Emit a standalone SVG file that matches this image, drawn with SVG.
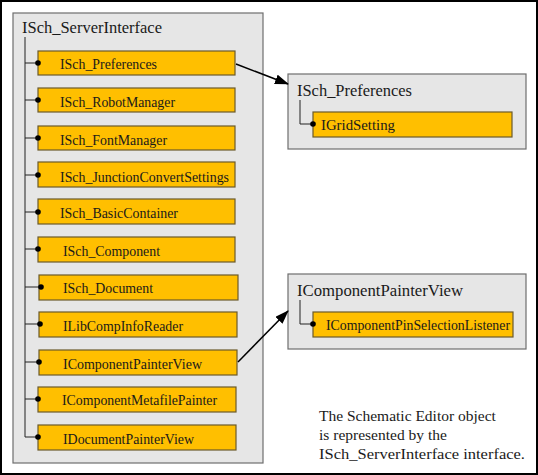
<svg xmlns="http://www.w3.org/2000/svg" width="538" height="475" viewBox="0 0 538 475">
<style>
.frame{fill:#fff;stroke:#000;stroke-width:2}
.grp{fill:#e6e6e6;stroke:#6e6e6e;stroke-width:1.2}
.box{fill:#ffbf00;stroke:#6b5a2a;stroke-width:1.2}
text{font-family:'Liberation Serif','Times New Roman',Times,'DejaVu Serif',serif;fill:#1a1a1a}
.title{font-size:16px}
.lbl{font-size:14px}
.tree{fill:none;stroke:#222;stroke-width:1}
.conn{fill:none;stroke:#000;stroke-width:1.5}
</style>
<defs>
<marker id="arr" viewBox="0 0 14 10" refX="13" refY="5" markerWidth="14" markerHeight="10" orient="auto" markerUnits="userSpaceOnUse">
<path d="M0,0 L14,5 L0,10 z" fill="#000"/>
</marker>
</defs>
<rect class="frame" x="1" y="1" width="536" height="473"/>
<g id="ISch_ServerInterface">
<rect class="grp" x="13" y="13" width="250" height="450"/>
<text class="title" x="22" y="33" textLength="140" lengthAdjust="spacingAndGlyphs">ISch_ServerInterface</text>
<path class="tree" d="M25,37 V437 M25,63 H38 M25,100 H38 M25,138 H38 M25,175 H38 M25,212 H38 M25,249 H38 M25,287 H41 M25,324 H40 M25,362 H39 M25,399 H38 M25,437 H38"/>
</g>
<g id="n_ISch_Preferences"><rect class="box" x="38" y="51" width="197" height="24"/><circle cx="38" cy="63" r="2.8"/><text class="lbl" x="60" y="69" textLength="97" lengthAdjust="spacingAndGlyphs">ISch_Preferences</text></g>
<g id="n_ISch_RobotManager"><rect class="box" x="38" y="88" width="197" height="24"/><circle cx="38" cy="100" r="2.8"/><text class="lbl" x="60" y="107" textLength="115" lengthAdjust="spacingAndGlyphs">ISch_RobotManager</text></g>
<g id="n_ISch_FontManager"><rect class="box" x="38" y="126" width="197" height="24"/><circle cx="38" cy="138" r="2.8"/><text class="lbl" x="60" y="145" textLength="107" lengthAdjust="spacingAndGlyphs">ISch_FontManager</text></g>
<g id="n_ISch_JunctionConvertSettings"><rect class="box" x="38" y="162" width="197" height="25"/><circle cx="38" cy="175" r="2.8"/><text class="lbl" x="60" y="182" textLength="169" lengthAdjust="spacingAndGlyphs">ISch_JunctionConvertSettings</text></g>
<g id="n_ISch_BasicContainer"><rect class="box" x="38" y="199" width="197" height="25"/><circle cx="38" cy="212" r="2.8"/><text class="lbl" x="60" y="218" textLength="118" lengthAdjust="spacingAndGlyphs">ISch_BasicContainer</text></g>
<g id="n_ISch_Component"><rect class="box" x="38" y="237" width="197" height="25"/><circle cx="38" cy="249" r="2.8"/><text class="lbl" x="63" y="256" textLength="97" lengthAdjust="spacingAndGlyphs">ISch_Component</text></g>
<g id="n_ISch_Document"><rect class="box" x="39" y="275" width="199" height="25"/><circle cx="41" cy="287" r="2.8"/><text class="lbl" x="63" y="293" textLength="90" lengthAdjust="spacingAndGlyphs">ISch_Document</text></g>
<g id="n_ILibCompInfoReader"><rect class="box" x="39" y="312" width="198" height="25"/><circle cx="40" cy="324" r="2.8"/><text class="lbl" x="63" y="331" textLength="120" lengthAdjust="spacingAndGlyphs">ILibCompInfoReader</text></g>
<g id="n_IComponentPainterView"><rect class="box" x="39" y="350" width="198" height="25"/><circle cx="39" cy="362" r="2.8"/><text class="lbl" x="63" y="369" textLength="139" lengthAdjust="spacingAndGlyphs">IComponentPainterView</text></g>
<g id="n_IComponentMetafilePainter"><rect class="box" x="38" y="387" width="198" height="25"/><circle cx="38" cy="399" r="2.8"/><text class="lbl" x="62" y="405" textLength="155" lengthAdjust="spacingAndGlyphs">IComponentMetafilePainter</text></g>
<g id="n_IDocumentPainterView"><rect class="box" x="38" y="425" width="198" height="25"/><circle cx="38" cy="437" r="2.8"/><text class="lbl" x="63" y="444" textLength="131" lengthAdjust="spacingAndGlyphs">IDocumentPainterView</text></g>
<g id="ISch_Preferences_grp">
<rect class="grp" x="288" y="74" width="238" height="75"/>
<text class="title" x="297" y="96" textLength="115" lengthAdjust="spacingAndGlyphs">ISch_Preferences</text>
<path class="tree" d="M300,100 V124 H313"/>
</g>
<g id="n_IGridSetting"><rect class="box" x="313" y="112" width="199" height="25"/><circle cx="313" cy="124" r="2.8"/><text class="lbl" x="321" y="130" textLength="74" lengthAdjust="spacingAndGlyphs">IGridSetting</text></g>
<g id="IComponentPainterView_grp">
<rect class="grp" x="288" y="274" width="238" height="75"/>
<text class="title" x="297" y="296" textLength="166" lengthAdjust="spacingAndGlyphs">IComponentPainterView</text>
<path class="tree" d="M300,300 V324 H313"/>
</g>
<g id="n_IComponentPinSelectionListener"><rect class="box" x="313" y="312" width="200" height="25"/><circle cx="313" cy="324" r="2.8"/><text class="lbl" x="326" y="330" textLength="184" lengthAdjust="spacingAndGlyphs">IComponentPinSelectionListener</text></g>
<g id="connectors">
<line class="conn" x1="236" y1="64" x2="288" y2="84" marker-end="url(#arr)"/>
<line class="conn" x1="238" y1="362" x2="288" y2="311" marker-end="url(#arr)"/>
</g>
<g id="note">
<text font-size="15.5" x="319" y="421">The Schematic Editor object</text>
<text font-size="15.5" x="319" y="440">is represented by the</text>
<text font-size="15.5" x="319" y="459" textLength="206" lengthAdjust="spacingAndGlyphs">ISch_ServerInterface interface.</text>
</g>
</svg>
